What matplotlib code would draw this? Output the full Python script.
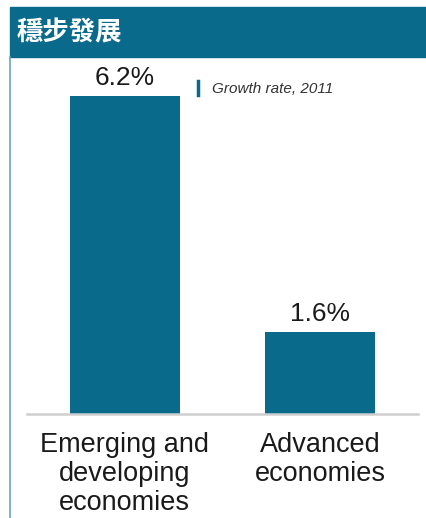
import matplotlib.pyplot as plt
from matplotlib.patches import Rectangle
from matplotlib.lines import Line2D

plt.rcParams['font.family'] = ['Liberation Sans', 'DejaVu Sans']

# data
categories = ['Emerging and\ndeveloping\neconomies', 'Advanced\neconomies']
growth = [6.2, 1.6]
value_labels = ['6.2%', '1.6%']
title = '穩步發展'
legend_text = 'Growth rate, 2011'

W, H = 427, 518
blue = '#0a6a8c'

fig = plt.figure(figsize=(W / 100, H / 100), dpi=100)

# header band and left border
fig.patches.append(Rectangle((10 / W, 1 - 57 / H), 1 - 10 / W, 50 / H,
                             transform=fig.transFigure, color=blue, zorder=0))
fig.lines.append(Line2D([10.5 / W, 10.5 / W], [0, 1 - 57 / H], transform=fig.transFigure,
                        color='#6aa6bb', lw=1.2))
fig.text(17 / W, 1 - 33 / H, title, color='white', fontsize=19, fontweight='bold',
         family=['Noto Sans CJK TC', 'DejaVu Sans'], va='center', ha='left')

# plot area
ax = fig.add_axes([27 / W, 1 - 414 / H, 391 / W, 354 / H])
x = range(len(categories))
ax.bar(x, growth, width=0.565, color=blue, zorder=2)
ax.set_xlim(-0.5, 1.5)
ax.set_ylim(0, 354 / 51.3)
for s in ['top', 'right', 'left']:
    ax.spines[s].set_visible(False)
ax.spines['bottom'].set_color('#cfcfcf')
ax.spines['bottom'].set_linewidth(1.8)
ax.set_yticks([])
ax.set_xticks([])

for xi, v, lab in zip(x, growth, value_labels):
    ax.text(xi, v + 0.12, lab, ha='center', va='bottom', fontsize=19, color='#1a1a1a')

for xi, cat in zip(x, categories):
    ax.text(xi, -0.36, cat, ha='center', va='top', fontsize=19.5, color='#1a1a1a',
            linespacing=1.13)

# legend-like note
fig.lines.append(Line2D([198 / W, 198 / W], [1 - 81 / H, 1 - 95 / H], transform=fig.transFigure,
                        color=blue, lw=2.5))
fig.text(212 / W, 1 - 89 / H, legend_text, fontsize=11, style='italic',
         color='#333333', va='center', ha='left')

fig.savefig('out.png', dpi=100)
